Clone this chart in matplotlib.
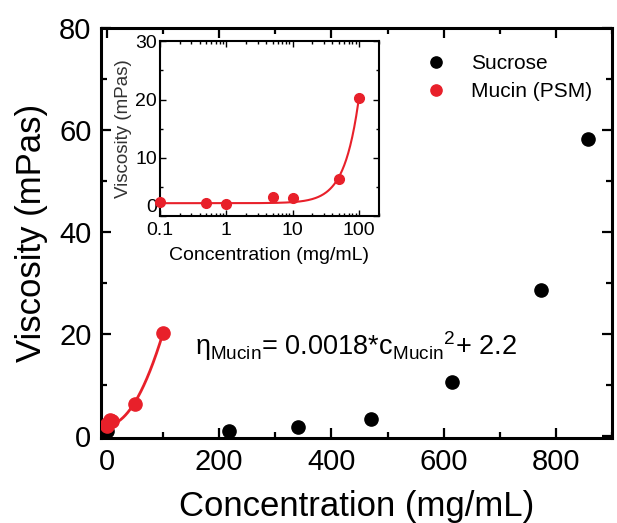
import matplotlib as mpl
import matplotlib.pyplot as plt
import numpy as np
from matplotlib.ticker import MultipleLocator, LogLocator, NullFormatter

mpl.rcParams['font.family'] = ['Liberation Sans', 'DejaVu Sans']
mpl.rcParams['mathtext.fontset'] = 'custom'
mpl.rcParams['mathtext.rm'] = 'Liberation Sans'
mpl.rcParams['mathtext.it'] = 'Liberation Sans'

# Data
sucrose_conc = [0, 218, 340, 471, 614, 773, 857]
sucrose_visc = [1.0, 1.1, 1.9, 3.4, 10.7, 28.7, 58.3]

mucin_conc = [0.1, 0.5, 1, 5, 10, 50, 100]
mucin_visc = [2.4, 2.2, 2.1, 3.2, 3.1, 6.4, 20.3]

# quadratic fit shown in the annotation
fit_a = 0.0018
fit_b = 2.2

inset_xticks = [0.1, 1, 10, 100]
inset_xlabels = ['0.1', '1', '10', '100']
inset_yticks = [0, 10, 20, 30]
inset_ylabels = ['0', '10', '20', '30']

red = '#e8202a'

fig = plt.figure(figsize=(6.17, 5.23), dpi=100)
ax = fig.add_axes([0.164, 0.1625, 0.828, 0.784])

ax.plot(sucrose_conc, sucrose_visc, 'o', color='black', ms=9.5, label='Sucrose', zorder=3)
c_fit = np.linspace(0, 100, 200)
ax.plot(c_fit, fit_a * c_fit**2 + fit_b, '-', color=red, lw=2, zorder=4)
ax.plot(mucin_conc, mucin_visc, 'o', color=red, ms=9.5, label='Mucin (PSM)', zorder=5)

ax.set_xlim(-10, 900)
ax.set_ylim(-0.3, 80)
ax.xaxis.set_major_locator(MultipleLocator(200))
ax.xaxis.set_minor_locator(MultipleLocator(100))
ax.yaxis.set_major_locator(MultipleLocator(20))
ax.yaxis.set_minor_locator(MultipleLocator(10))
ax.tick_params(which='both', direction='in', top=True, right=True, width=1.6)
ax.tick_params(which='major', length=7, labelsize=21, pad=7)
ax.tick_params(which='minor', length=4)
for s in ax.spines.values():
    s.set_linewidth(2.2)
ax.set_xlabel('Concentration (mg/mL)', fontsize=25, labelpad=10)
ax.set_ylabel('Viscosity (mPas)', fontsize=25, labelpad=8)

ax.legend(loc='upper right', frameon=False, fontsize=15, handletextpad=0.7,
          markerscale=0.85, borderaxespad=0.55, labelspacing=0.45,
          bbox_to_anchor=(1.0, 0.985))

ax.text(0.184, 0.203,
        r'$\eta_{\mathrm{Mucin}}$= 0.0018*c$_{\mathrm{Mucin}}$$^{2}$+ 2.2',
        transform=ax.transAxes, fontsize=19.5)

# inset: log concentration axis
ins = fig.add_axes([0.259, 0.587, 0.355, 0.334])
ci = np.logspace(-1, 2, 300)
ins.plot(ci, fit_a * ci**2 + fit_b, '-', color=red, lw=1.5)
ins.plot(mucin_conc, mucin_visc, 'o', color=red, ms=7, clip_on=False, zorder=5)
ins.set_xscale('log')
ins.set_xlim(0.1, 200)
ins.set_ylim(0, 30)
ins.set_xticks(inset_xticks)
ins.set_xticklabels(inset_xlabels)
ins.xaxis.set_minor_locator(LogLocator(base=10, subs=np.arange(2, 10)))
ins.xaxis.set_minor_formatter(NullFormatter())
ins.set_yticks(inset_yticks)
ylabs = ins.set_yticklabels(inset_ylabels)
ylabs[0].set_verticalalignment('bottom')
ins.yaxis.set_minor_locator(MultipleLocator(5))
ins.tick_params(which='both', direction='in', top=True, right=True, width=1.0)
ins.tick_params(which='major', length=4, labelsize=14)
ins.tick_params(axis='x', which='major', pad=4)
ins.tick_params(axis='y', which='major', pad=2)
ins.tick_params(which='minor', length=2)
for s in ins.spines.values():
    s.set_linewidth(1.5)
ins.set_xlabel('Concentration (mg/mL)', fontsize=14, labelpad=6)
ins.set_ylabel('Viscosity (mPas)', fontsize=13.5, color='#333333', labelpad=2)

fig.savefig('out.png', dpi=100)
